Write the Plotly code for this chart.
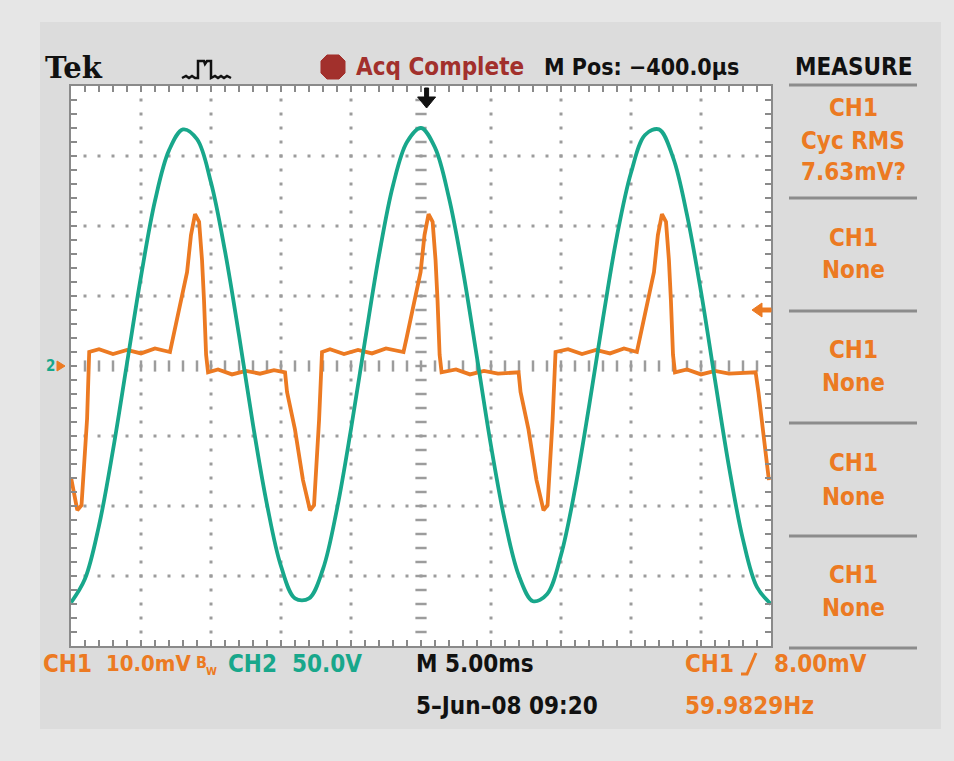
import plotly.graph_objects as go

# ---- waveform data -------------------------------------------------------
# CH2: line voltage (V), sampled every 1 ms
ch2_time_ms = [0, 1, 2, 3, 4, 5, 6, 7, 8, 9, 10, 11, 12, 13, 14, 15, 16, 17, 18, 19,
               20, 21, 22, 23, 24, 25, 26, 27, 28, 29, 30, 31, 32, 33, 34, 35, 36, 37,
               38, 39, 40, 41, 42, 43, 44, 45, 46, 47, 48, 49, 50]
ch2_volts = [-169, -152, -114, -60, 2, 64, 118, 154, 169, 162, 131, 82, 22, -42, -99,
             -143, -166, -166, -145, -102, -45, 18, 79, 129, 160, 170, 156, 120, 68, 6,
             -57, -111, -150, -168, -163, -135, -88, -29, 34, 93, 138, 165, 169, 149,
             108, 53, -10, -72, -124, -158, -170]

# CH1: current-sense voltage (mV)
ch1_time_ms = [0, 0.45, 0.75, 1.15, 1.3,
               2.0, 3.0, 4.0, 5.0, 6.0, 7.07,
               7.29, 7.86, 8.29, 8.57, 8.86, 9.15, 9.36, 9.50, 9.65, 9.79,
               10.5, 11.5, 12.5, 13.5, 14.5, 15.29,
               15.43, 16.00, 16.57, 17.07, 17.36, 17.72, 17.93,
               18.5, 19.5, 20.5, 21.5, 22.5, 23.75,
               23.97, 24.54, 24.97, 25.25, 25.54, 25.83, 26.04, 26.18, 26.33, 26.47,
               27.5, 28.5, 29.5, 30.5, 31.97,
               32.11, 32.68, 33.25, 33.75, 34.04, 34.40, 34.61,
               35.5, 36.5, 37.5, 38.5, 39.5, 40.42,
               40.64, 41.21, 41.64, 41.92, 42.21, 42.50, 42.71, 42.85, 43.00, 43.14,
               44.0, 45.0, 46.0, 47.0, 48.9,
               49.1, 49.45, 49.85]
ch1_mv = [-15.9, -20.6, -19.9, -7.5, 2.0,
          2.4, 1.7, 2.3, 1.8, 2.5, 2.0,
          4.0, 9.4, 13.4, 18.7, 21.7, 20.6, 15.1, 9.4, 1.6, -0.9,
          -0.5, -1.2, -0.7, -1.1, -0.6, -0.9,
          -3.7, -9.1, -16.3, -20.6, -19.9, -7.7, 2.0,
          2.4, 1.7, 2.3, 1.8, 2.5, 2.0,
          4.0, 9.4, 13.4, 18.7, 21.7, 20.6, 15.1, 9.4, 1.6, -0.9,
          -0.5, -1.2, -0.7, -1.1, -0.9,
          -3.7, -9.1, -16.3, -20.6, -19.9, -7.7, 2.0,
          2.4, 1.7, 2.3, 1.8, 2.5, 2.0,
          4.0, 9.4, 13.4, 18.7, 21.7, 20.6, 15.1, 9.4, 1.6, -0.9,
          -0.5, -1.2, -0.7, -1.1, -0.9,
          -3.7, -10.0, -16.3]

# scope settings
time_per_div_ms = 5.0
ch1_mv_per_div = 10.0
ch2_v_per_div = 50.0
n_hdiv, n_vdiv = 10, 8
trigger_offset_ms = 0.4
trigger_level_mv = 8.0

# ---- canvas geometry -----------------------------------------------------
W, H = 954, 761
L, R, T, B = 71, 771, 86, 646


def px(x):
    return (x - L) / (R - L)


def py(y):
    return (B - y) / (B - T)


ORANGE = "#ec7a22"
TEAL = "#18a78b"
DARKRED = "#a2302c"
GRID = "#9c9c9c"
FONT = "DejaVu Sans Condensed, DejaVu Sans, sans-serif"
FS = 24

t_span = time_per_div_ms * n_hdiv
v_half = ch1_mv_per_div * n_vdiv / 2
t_step = time_per_div_ms / 5
v_step = ch1_mv_per_div / 5

fig = go.Figure()

# ---- graticule -----------------------------------------------------------
dot_x, dot_y = [], []
for k in range(1, n_hdiv):
    if k == n_hdiv // 2:
        continue
    tx = k * time_per_div_ms
    for j in range(1, n_vdiv * 5):
        dot_x.append(tx)
        dot_y.append(-v_half + j * v_step)
for k in range(1, n_vdiv):
    if k == n_vdiv // 2:
        continue
    vy = -v_half + k * ch1_mv_per_div
    for j in range(1, n_hdiv * 5):
        dot_x.append(j * t_step)
        dot_y.append(vy)
fig.add_trace(go.Scatter(x=dot_x, y=dot_y, mode="markers", hoverinfo="skip",
                         marker=dict(symbol="square", size=3, color=GRID, line=dict(width=0))))

# centre cross with minor tick marks
cx = t_span / 2
fig.add_trace(go.Scatter(x=[cx] * (n_vdiv * 5 - 1),
                         y=[-v_half + j * v_step for j in range(1, n_vdiv * 5)],
                         mode="markers", hoverinfo="skip",
                         marker=dict(symbol="line-ew", size=8, line=dict(width=2.5, color=GRID))))
fig.add_trace(go.Scatter(x=[j * t_step for j in range(1, n_hdiv * 5)],
                         y=[0] * (n_hdiv * 5 - 1),
                         mode="markers", hoverinfo="skip",
                         marker=dict(symbol="line-ns", size=8, line=dict(width=2.5, color=GRID))))

# ---- waveforms -----------------------------------------------------------
fig.add_trace(go.Scatter(x=ch1_time_ms, y=ch1_mv, mode="lines", name="CH1",
                         line=dict(color=ORANGE, width=3.8), yaxis="y"))
fig.add_trace(go.Scatter(x=ch2_time_ms, y=ch2_volts, mode="lines", name="CH2",
                         line=dict(color=TEAL, width=3.8, shape="spline"), yaxis="y2"))

axis_common = dict(showgrid=False, zeroline=False, showticklabels=False,
                   ticks="inside", ticklen=6, tickwidth=2, tickcolor="#8a8a8a",
                   showline=True, linecolor="#8a8a8a", linewidth=2, mirror="ticks",
                   fixedrange=True)

fig.update_layout(
    width=W, height=H,
    margin=dict(l=L, r=W - R, t=T, b=H - B, pad=0),
    paper_bgcolor="#e6e6e6",
    plot_bgcolor="#ffffff",
    showlegend=False,
    xaxis=dict(range=[0, t_span], tick0=0, dtick=t_step, **axis_common),
    yaxis=dict(range=[-v_half, v_half], tick0=0, dtick=v_step, **axis_common),
    yaxis2=dict(range=[-ch2_v_per_div * n_vdiv / 2, ch2_v_per_div * n_vdiv / 2],
                overlaying="y", visible=False, fixedrange=True),
)

shapes = []

# screen panel behind everything, with the white graticule area on top of it
shapes.append(dict(type="rect", xref="paper", yref="paper", layer="below",
                   x0=px(40), x1=px(941), y0=py(22), y1=py(729),
                   fillcolor="#dcdcdc", line=dict(width=0)))
shapes.append(dict(type="rect", xref="paper", yref="paper", layer="below",
                   x0=0, x1=1, y0=0, y1=1,
                   fillcolor="#ffffff", line=dict(width=0)))

# measure panel separators
for yy in [85, 198, 311, 423, 536, 648]:
    shapes.append(dict(type="line", xref="paper", yref="paper",
                       x0=px(789), x1=px(917), y0=py(yy), y1=py(yy),
                       line=dict(color="#8c8c8c", width=3)))


def path_from(points, close=False):
    s = "M " + " L ".join(f"{px(x):.5f},{py(y):.5f}" for x, y in points)
    return s + (" Z" if close else "")


# acquisition-mode pulse icon
icon = [(182, 78), (186, 76), (189, 78), (192, 76), (195, 78), (198, 78), (198, 61),
        (204, 61), (205, 64), (207, 61), (211, 61), (211, 78), (215, 76), (218, 78),
        (221, 76), (224, 78), (227, 76), (231, 78)]
shapes.append(dict(type="path", xref="paper", yref="paper", path=path_from(icon),
                   line=dict(color="#111111", width=2.5)))

# stop sign (octagon)
oct_pts = [(327, 55), (339, 55), (345, 61), (345, 73), (339, 79), (327, 79), (321, 73), (321, 61)]
shapes.append(dict(type="path", xref="paper", yref="paper", path=path_from(oct_pts, True),
                   fillcolor=DARKRED, line=dict(color=DARKRED, width=1)))

# trigger position arrow (top)
trig_x = L + (cx + trigger_offset_ms) / t_span * (R - L)
arrow_down = [(trig_x - 2, 88), (trig_x + 2, 88), (trig_x + 2, 97), (trig_x + 9, 97),
              (trig_x, 108), (trig_x - 9, 97), (trig_x - 2, 97)]
shapes.append(dict(type="path", xref="paper", yref="paper", path=path_from(arrow_down, True),
                   fillcolor="#111111", line=dict(color="#111111", width=1)))

# trigger level arrow (right)
trig_y = B - (trigger_level_mv + v_half) / (2 * v_half) * (B - T)
arrow_left = [(752, trig_y), (762, trig_y - 7), (762, trig_y - 2), (771, trig_y - 2),
              (771, trig_y + 2), (762, trig_y + 2), (762, trig_y + 7)]
shapes.append(dict(type="path", xref="paper", yref="paper", path=path_from(arrow_left, True),
                   fillcolor=ORANGE, line=dict(color=ORANGE, width=1)))

# channel ground marker (left)
gnd_y = (T + B) / 2
shapes.append(dict(type="path", xref="paper", yref="paper",
                   path=path_from([(57, gnd_y - 5), (65, gnd_y), (57, gnd_y + 5)], True),
                   fillcolor=ORANGE, line=dict(color=ORANGE, width=1)))

# rising slope symbol in the trigger readout
shapes.append(dict(type="path", xref="paper", yref="paper",
                   path=path_from([(741, 674), (747, 674), (756, 653)]),
                   line=dict(color=ORANGE, width=3)))

fig.update_layout(shapes=shapes)

ann = []


def text(s, x, y, color, size=FS, anchor="left", family=FONT, bold=True):
    ann.append(dict(text=f"<b>{s}</b>" if bold else s, x=px(x), y=py(y),
                    xref="paper", yref="paper", xanchor=anchor, yanchor="middle",
                    showarrow=False, font=dict(family=family, size=size, color=color)))


# top status line
text("Tek", 43, 68, "#111111", size=29, family="DejaVu Serif, serif")
text("Acq Complete", 354, 67, DARKRED)
text("M Pos: \u2212400.0\u00b5s", 542, 67, "#111111", size=23)
text("MEASURE", 853, 67, "#111111", anchor="center")

# measurement readouts
text("CH1", 853, 108, ORANGE, anchor="center")
text("Cyc RMS", 853, 141, ORANGE, anchor="center")
text("7.63mV?", 853, 172, ORANGE, anchor="center")
for y_ch, y_val in [(238, 270), (350, 383), (463, 497), (575, 608)]:
    text("CH1", 853, y_ch, ORANGE, anchor="center")
    text("None", 853, y_val, ORANGE, anchor="center")

# ground marker label
text("2", 44, gnd_y, TEAL, size=15)

# bottom readouts
text("CH1", 41, 664, ORANGE)
text("10.0mV", 104, 664, ORANGE, size=22)
text("B", 194, 662, ORANGE, size=16)
text("W", 204, 671, ORANGE, size=11)
text("CH2", 226, 664, TEAL)
text("50.0V", 290, 664, TEAL)
text("M 5.00ms", 414, 664, "#111111")
text("5\u2013Jun\u201308 09:20", 414, 706, "#111111")
text("CH1", 683, 664, ORANGE)
text("8.00mV", 772, 664, ORANGE)
text("59.9829Hz", 683, 706, ORANGE)

fig.update_layout(annotations=ann)

fig.write_html("out.html")
